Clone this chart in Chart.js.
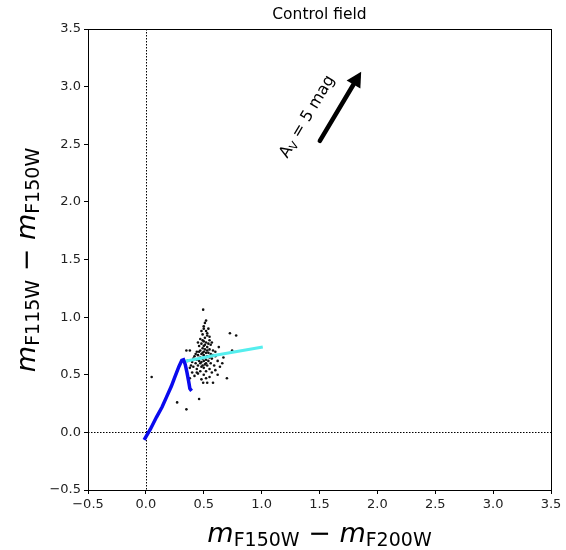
<!DOCTYPE html>
<html><head><meta charset="utf-8">
<script src="https://cdn.jsdelivr.net/npm/chart.js@4"></script>
<style>html,body{margin:0;padding:0;background:#fff}#wrap{width:566px;height:550px;position:relative}</style>
</head><body><div id="wrap"><canvas id="c" width="566" height="550"></canvas></div>
<script>
const chartTitle = 'Control field';
const xTicks = [-0.5, 0, 0.5, 1, 1.5, 2, 2.5, 3, 3.5];
const yTicks = [-0.5, 0, 0.5, 1, 1.5, 2, 2.5, 3, 3.5];
// blue track
const trackX = [-0.015, 0.04, 0.092, 0.14, 0.18, 0.22, 0.25, 0.285, 0.31, 0.325, 0.34, 0.355, 0.37, 0.38, 0.395];
const trackY = [-0.065, 0.03, 0.133, 0.22, 0.31, 0.40, 0.48, 0.57, 0.625, 0.63, 0.59, 0.52, 0.44, 0.38, 0.36];
// cyan track
const cyanX = [0.33, 0.60, 1.01];
const cyanY = [0.615, 0.67, 0.74];
// stars
const starX = [0.50,0.52,0.49,0.53,0.51,0.47,0.55,0.50,0.52,0.48,0.54,0.56,0.46,0.50,0.53,0.49,0.51,0.55,0.47,0.58,
  0.44,0.50,0.52,0.54,0.48,0.56,0.45,0.50,0.53,0.60,0.42,0.47,0.51,0.55,0.49,0.57,0.44,0.52,0.46,0.50,
  0.54,0.62,0.40,0.48,0.56,0.43,0.51,0.45,0.53,0.59,0.41,0.48,0.64,0.38,0.50,0.55,0.44,0.60,0.47,0.52,
  0.40,0.57,0.45,0.62,0.50,0.42,0.55,0.70,0.38,0.48,0.495,0.53,0.58,0.46,0.35,0.27,0.05,0.35,0.38,0.745,
  0.726,0.78,0.495,0.52,0.50,0.53,0.49,0.51,0.53,0.49,0.46,0.58,0.43,0.52,0.49,0.36,0.66,0.60,0.41,0.63,
  0.57,0.45,0.54,0.48,0.51,0.55,0.47,0.39,0.67,0.44,0.52];
const starY = [0.92,0.88,0.85,0.84,0.82,0.81,0.80,0.79,0.78,0.77,0.77,0.76,0.75,0.75,0.74,0.73,0.72,0.72,0.71,0.71,
  0.70,0.70,0.69,0.69,0.68,0.68,0.67,0.67,0.66,0.66,0.66,0.65,0.65,0.65,0.64,0.64,0.63,0.63,0.62,0.62,
  0.62,0.62,0.61,0.61,0.60,0.60,0.59,0.58,0.58,0.58,0.57,0.57,0.57,0.56,0.56,0.55,0.55,0.54,0.53,0.53,
  0.52,0.52,0.51,0.50,0.50,0.49,0.48,0.47,0.47,0.46,0.43,0.43,0.43,0.29,0.20,0.26,0.48,0.71,0.71,0.71,
  0.86,0.84,1.065,0.97,0.90,0.86,0.80,0.76,0.71,0.69,0.70,0.67,0.68,0.60,0.58,0.62,0.60,0.70,0.64,0.74,
  0.78,0.78,0.90,0.88,0.95,0.83,0.60,0.58,0.65,0.52,0.47];
// extinction vector
const arrowX = [1.503, 1.86];
const arrowY = [2.53, 3.13];
const arrowLabel = 'A';
const arrowLabelSub = 'V';
const arrowLabelRest = ' = 5 mag';

const pts = (xs, ys) => xs.map((x, i) => ({x, y: ys[i]}));
const fmt = v => (v < 0 ? '\u2212' : '') + Math.abs(v).toFixed(1);
const FONT = "'DejaVu Sans'";

function drawParts(ctx, parts, cx, cy, angle) {
  ctx.save();
  ctx.translate(cx, cy);
  ctx.rotate(angle);
  let total = 0;
  parts.forEach(p => { ctx.font = p.font; p.w = ctx.measureText(p.t).width; total += p.w; });
  let x = -total / 2;
  ctx.fillStyle = '#000';
  ctx.textBaseline = 'alphabetic';
  ctx.textAlign = 'left';
  parts.forEach(p => { ctx.font = p.font; ctx.fillText(p.t, x, p.dy || 0); x += p.w; });
  ctx.restore();
}

const deco = {
  id: 'deco',
  beforeDatasetsDraw(chart) {
    const {ctx, chartArea: a, scales: {x, y}} = chart;
    ctx.save();
    ctx.strokeStyle = '#000';
    ctx.lineWidth = 1;
    ctx.setLineDash([1.5, 1.5]);
    const x0 = Math.round(x.getPixelForValue(0)) + 0.5;
    const y0 = Math.round(y.getPixelForValue(0)) + 0.5;
    ctx.beginPath(); ctx.moveTo(x0, a.top); ctx.lineTo(x0, a.bottom); ctx.stroke();
    ctx.beginPath(); ctx.moveTo(a.left, y0); ctx.lineTo(a.right, y0); ctx.stroke();
    ctx.restore();
  },
  afterDraw(chart) {
    const {ctx, chartArea: a, scales: {x, y}} = chart;
    ctx.save();
    // frame top/right
    ctx.strokeStyle = '#000'; ctx.lineWidth = 1;
    ctx.beginPath();
    ctx.moveTo(a.left, Math.round(a.top) + 0.5); ctx.lineTo(a.right, Math.round(a.top) + 0.5);
    ctx.moveTo(Math.round(a.right) + 0.5, a.top); ctx.lineTo(Math.round(a.right) + 0.5, a.bottom);
    ctx.stroke();
    // title
    ctx.fillStyle = '#000';
    ctx.font = `15.5px ${FONT}`;
    ctx.textAlign = 'center';
    ctx.textBaseline = 'alphabetic';
    ctx.fillText(chartTitle, (a.left + a.right) / 2, 19);
    // axis titles
    const big = `italic 27px ${FONT}`, sub = `19px ${FONT}`, rom = `27px ${FONT}`;
    drawParts(ctx, [
      {t: 'm', font: big}, {t: 'F150W', font: sub, dy: 4},
      {t: ' \u2212 ', font: rom}, {t: 'm', font: big}, {t: 'F200W', font: sub, dy: 4}
    ], (a.left + a.right) / 2, 542, 0);
    drawParts(ctx, [
      {t: 'm', font: big}, {t: 'F115W', font: sub, dy: 4},
      {t: ' \u2212 ', font: rom}, {t: 'm', font: big}, {t: 'F150W', font: sub, dy: 4}
    ], 35, 260, -Math.PI / 2);
    // arrow
    const x1 = x.getPixelForValue(arrowX[0]), y1 = y.getPixelForValue(arrowY[0]);
    const x2 = x.getPixelForValue(arrowX[1]), y2 = y.getPixelForValue(arrowY[1]);
    const ang = Math.atan2(y2 - y1, x2 - x1);
    const hl = 15, hw = 8;
    const bx = x2 - hl * Math.cos(ang), by = y2 - hl * Math.sin(ang);
    ctx.strokeStyle = '#000'; ctx.lineWidth = 4.5; ctx.lineCap = 'round';
    ctx.beginPath(); ctx.moveTo(x1, y1); ctx.lineTo(bx, by); ctx.stroke();
    ctx.beginPath();
    ctx.moveTo(x2, y2);
    ctx.lineTo(bx + hw * Math.sin(ang), by - hw * Math.cos(ang));
    ctx.lineTo(bx - hw * Math.sin(ang), by + hw * Math.cos(ang));
    ctx.closePath(); ctx.fill();
    // label
    drawParts(ctx, [
      {t: arrowLabel, font: `16px ${FONT}`}, {t: arrowLabelSub, font: `11px ${FONT}`, dy: 3},
      {t: arrowLabelRest, font: `16px ${FONT}`}
    ], 311, 119, ang);
    ctx.restore();
  }
};

const axisCommon = (ticks) => ({
  type: 'linear', min: -0.5, max: 3.5,
  afterBuildTicks: s => { s.ticks = ticks.map(v => ({value: v})); },
  ticks: {callback: v => fmt(v), color: '#222', font: {family: FONT, size: 13}, padding: 3, maxRotation: 0, autoSkip: false},
  grid: {drawOnChartArea: false, drawTicks: true, tickLength: 4, color: '#000', tickWidth: 1},
  border: {display: true, color: '#000', width: 1}
});

const xAxis = axisCommon(xTicks);
xAxis.afterFit = s => { s.height = 60; };
const yAxis = axisCommon(yTicks);
yAxis.afterFit = s => { s.width = 88; };

new Chart(document.getElementById('c'), {
  type: 'scatter',
  data: {
    datasets: [
      {data: pts(starX, starY), backgroundColor: '#111', borderWidth: 0, pointRadius: 1.3, order: 3},
      {type: 'line', data: pts(cyanX, cyanY), borderColor: '#55eeee', borderWidth: 3, pointRadius: 0, fill: false, tension: 0, order: 2},
      {type: 'line', data: pts(trackX, trackY), borderColor: '#0a0aee', borderWidth: 3.5, pointRadius: 0, fill: false, tension: 0, order: 1}
    ]
  },
  options: {
    responsive: false, animation: false, devicePixelRatio: 1,
    layout: {padding: {top: 29, right: 15, left: 0, bottom: 0}},
    plugins: {legend: {display: false}, tooltip: {enabled: false}, title: {display: false}},
    scales: {x: xAxis, y: yAxis}
  },
  plugins: [deco]
});
</script></body></html>
